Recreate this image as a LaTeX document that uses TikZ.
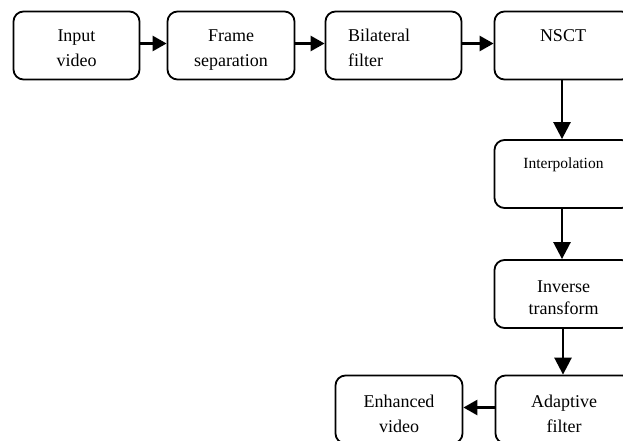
\documentclass[tikz,border=0pt]{standalone}
\usepackage{fontspec}
\setmainfont{Liberation Serif}
\usetikzlibrary{arrows.meta}
\begin{document}
\begin{tikzpicture}[x=1pt,y=-1pt,
  box/.style={draw, line width=1.8pt, rounded corners=10pt, minimum height=68pt, inner sep=0pt},
  txt/.style={align=center, anchor=base, inner sep=0pt, font=\fontsize{18}{25}\selectfont},
  harrow/.style={line width=2.6pt, -{Triangle[length=14pt,width=15pt]}},
  varrow/.style={line width=2.6pt, -{Triangle[length=17pt,width=17pt]}}]
\useasboundingbox (0,0) rectangle (623,441);
\clip (0,0) rectangle (623,441);
\node[box, minimum width=126pt] (in) at (76.5,45.5) {};
\node[box, minimum width=127pt] (fs) at (231,45.5) {};
\node[box, minimum width=136pt] (bf) at (393.5,45.5) {};
\node[box, minimum width=137pt] (ns) at (563,45.5) {};
\node[box, minimum width=137pt] (ip) at (563,174) {};
\node[box, minimum width=137pt] (it) at (563,294) {};
\node[box, minimum width=137pt] (af) at (564,409.5) {};
\node[box, minimum width=127pt] (ev) at (399,409.5) {};
\node[txt] (tin) at (76.5,67) {Input\\video};
\node[txt] (tfs) at (231,67) {Frame\\separation};
\node[txt, align=left, anchor=base west] (tbf) at (348,67) {Bilateral\\filter};
\node[txt] (tns) at (563,42) {NSCT};
\node[txt, font=\fontsize{15.5}{20}\selectfont] (tip) at (563.5,168) {Interpolation};
\node[txt, font=\fontsize{18}{22}\selectfont] (tit) at (563.5,314) {Inverse\\transform};
\node[txt] (taf) at (564,432) {Adaptive\\filter};
\node[txt] (tev) at (399,432) {Enhanced\\video};
\draw[harrow] ([yshift=2pt]in.east) -- ([yshift=2pt]fs.west);
\draw[harrow] ([yshift=2pt]fs.east) -- ([yshift=2pt]bf.west);
\draw[harrow] ([yshift=2pt]bf.east) -- ([yshift=2pt]ns.west);
\draw[varrow] ([xshift=-1pt]ns.south) -- ([xshift=-1pt]ip.north);
\draw[varrow] ([xshift=-1pt]ip.south) -- ([xshift=-1pt]it.north);
\draw[varrow] (it.south) -- (it.south |- af.north);
\draw[harrow] ([yshift=2pt]af.west) -- ([yshift=2pt]ev.east);
\end{tikzpicture}
\end{document}
